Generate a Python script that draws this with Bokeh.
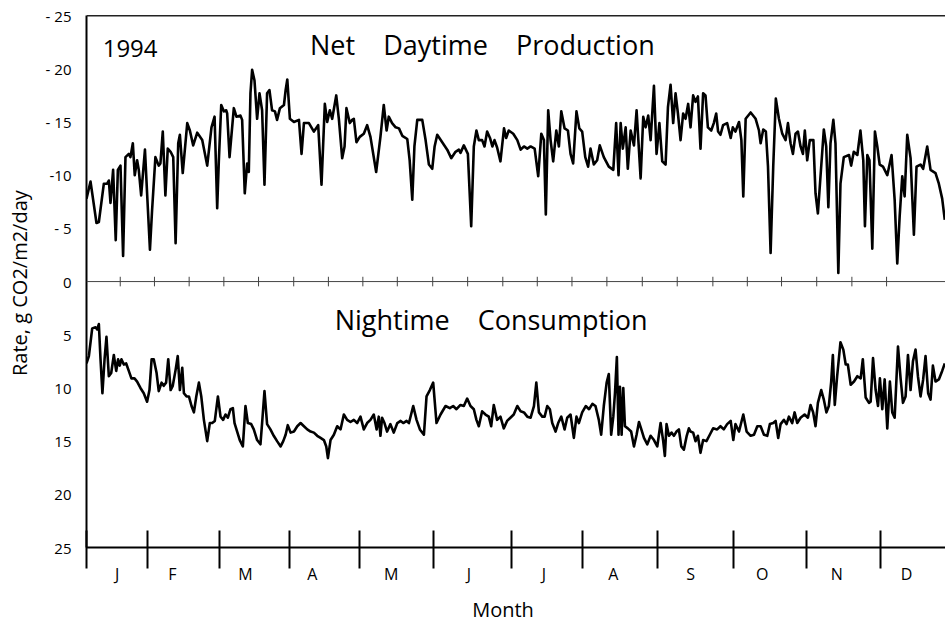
from bokeh.plotting import figure
from bokeh.models import Range1d, FixedTicker, Span
from bokeh.core.properties import value
from bokeh.embed import file_html
from bokeh.resources import INLINE

# ---------------- data (day of year, g CO2/m2/day) ----------------
# Net daytime production (plotted as negative rates, upward)
prod_days = [
    0.0, 1.7, 4.2, 5.2, 7.3, 8.7, 9.4, 10.1, 11.2, 12.3,
    13.2, 14.3, 15.4, 16.4, 17.8, 18.5, 19.5, 20.3, 21.3, 22.0,
    23.0, 24.6, 25.5, 26.7, 27.6, 29.0, 30.4, 31.1, 32.1, 33.2,
    34.2, 35.4, 36.5, 37.5, 38.6, 39.3, 40.5, 42.4, 43.5, 44.9,
    46.6, 48.7, 50.8, 52.6, 53.9, 55.0, 55.7, 56.7, 57.8, 58.8,
    59.2, 60.2, 62.0, 63.1, 64.8, 65.5, 66.6, 67.6, 68.3, 69.0,
    69.7, 70.7, 71.8, 72.8, 73.9, 74.9, 76.0, 77.0, 78.1, 79.3,
    80.2, 81.4, 83.1, 83.8, 84.5, 85.6, 87.3, 89.4, 90.5, 91.5,
    93.6, 95.7, 97.5, 98.9, 100.3, 101.3, 102.4, 103.4, 105.1, 106.2,
    107.6, 108.6, 109.4, 110.8, 111.8, 112.5, 113.6, 115.0, 116.7, 118.1,
    119.5, 121.9, 123.7, 125.1, 126.3, 127.2, 128.6, 130.1, 131.5, 132.9,
    135.0, 136.0, 137.1, 138.0, 139.2, 141.3, 142.7, 144.1, 145.5, 146.5,
    147.6, 149.7, 151.8, 153.5, 155.3, 156.7, 157.4, 158.8, 160.5, 161.9,
    163.0, 164.1, 165.1, 166.5, 167.5, 168.6, 169.8, 170.8, 171.7, 172.8,
    174.2, 175.7, 176.6, 177.7, 179.6, 181.3, 182.7, 184.1, 185.5, 186.9,
    188.6, 190.1, 191.4, 192.5, 193.3, 194.3, 195.3, 196.4, 197.7, 198.8,
    199.8, 201.2, 202.6, 203.7, 204.8, 206.2, 207.4, 208.6, 209.9, 211.1,
    212.1, 213.5, 214.9, 216.0, 217.7, 219.8, 221.7, 222.9, 223.9, 224.8,
    225.7, 226.9, 227.8, 229.0, 230.4, 231.5, 233.2, 234.3, 235.3, 236.4,
    237.4, 238.8, 239.9, 241.1, 242.3, 243.7, 244.7, 245.8, 246.9, 247.9,
    248.9, 250.0, 251.1, 252.1, 253.2, 254.2, 255.3, 256.3, 257.3, 258.4,
    259.5, 260.5, 261.5, 262.9, 264.0, 265.0, 265.8, 266.8, 267.9, 269.6,
    271.1, 272.0, 273.1, 274.6, 275.6, 276.4, 277.4, 279.5, 281.6, 283.0,
    283.7, 284.8, 285.9, 286.8, 287.9, 289.0, 290.1, 291.4, 292.8, 294.2,
    295.2, 296.3, 297.3, 298.4, 299.4, 300.5, 301.5, 302.3, 303.3, 304.4,
    305.9, 306.8, 307.8, 308.9, 310.3, 311.3, 312.2, 313.1, 314.3, 315.2,
    316.4, 317.3, 318.7, 320.9, 321.8, 322.9, 324.4, 325.7, 326.9, 327.6,
    328.6, 329.5, 330.7, 331.8, 332.8, 333.8, 335.2, 337.0, 338.8, 340.1,
    341.2, 342.2, 343.3, 344.3, 345.4, 346.8, 348.2, 349.3, 351.0, 352.1,
    353.8, 355.2, 357.3, 358.7, 360.1, 361.2,
]
prod_vals = [
    -7.8, -9.4, -5.5, -5.6, -9.2, -9.2, -9.5, -7.4, -10.5, -3.9,
    -10.5, -10.9, -2.4, -11.7, -12.0, -11.7, -13.0, -10.0, -11.4, -10.5,
    -8.1, -12.4, -8.3, -3.0, -6.7, -11.7, -10.9, -11.1, -14.1, -8.1,
    -12.5, -12.2, -11.7, -3.6, -13.0, -13.8, -10.2, -14.9, -14.2, -12.8,
    -14.0, -13.3, -10.9, -14.5, -15.5, -6.9, -11.4, -16.6, -16.0, -16.1,
    -15.8, -11.7, -16.3, -15.5, -15.6, -15.2, -8.3, -11.1, -10.3, -17.7,
    -19.9, -18.9, -15.3, -17.7, -16.1, -9.1, -17.7, -18.0, -16.1, -16.0,
    -15.2, -16.3, -16.6, -18.0, -19.0, -15.3, -15.0, -15.2, -12.0, -14.9,
    -14.9, -14.1, -14.7, -9.1, -16.7, -15.0, -16.1, -15.3, -17.5, -15.3,
    -11.6, -12.7, -16.3, -14.9, -15.2, -15.3, -13.1, -13.6, -13.9, -14.7,
    -13.6, -10.3, -13.6, -16.6, -14.2, -15.5, -14.9, -14.5, -14.4, -13.7,
    -13.4, -11.4, -7.7, -12.7, -15.2, -15.2, -13.3, -11.0, -10.6, -12.7,
    -13.8, -13.1, -12.4, -11.6, -12.2, -12.4, -12.1, -12.8, -12.0, -5.2,
    -12.7, -14.2, -13.3, -13.3, -12.7, -14.1, -13.5, -12.7, -13.3, -12.6,
    -11.3, -14.4, -13.5, -14.2, -13.9, -13.3, -12.4, -12.7, -12.5, -12.7,
    -12.5, -9.9, -13.9, -13.3, -6.3, -16.1, -13.3, -11.3, -14.2, -12.7,
    -16.0, -14.4, -14.2, -12.0, -11.1, -16.0, -14.4, -14.1, -11.7, -10.8,
    -12.5, -11.0, -11.4, -12.8, -11.7, -10.8, -10.5, -14.9, -10.0, -14.9,
    -12.5, -14.5, -10.6, -14.2, -12.8, -16.1, -9.7, -15.5, -14.5, -15.6,
    -13.3, -18.4, -12.0, -14.9, -11.3, -11.0, -16.4, -18.5, -14.9, -17.7,
    -15.8, -13.3, -15.8, -15.3, -16.7, -14.5, -17.5, -16.9, -17.4, -12.5,
    -17.7, -17.5, -14.5, -14.2, -14.9, -15.8, -14.1, -13.8, -14.7, -14.9,
    -13.5, -14.5, -14.1, -15.0, -13.3, -8.0, -15.3, -15.9, -15.3, -14.2,
    -13.0, -14.3, -14.1, -10.8, -2.7, -10.8, -17.2, -15.3, -13.9, -13.3,
    -14.9, -13.0, -12.0, -13.9, -14.1, -12.7, -12.0, -14.2, -11.4, -13.3,
    -13.3, -8.3, -6.4, -9.9, -14.3, -12.7, -7.0, -13.0, -15.2, -13.0,
    -0.8, -9.2, -11.7, -11.9, -10.9, -12.2, -11.9, -14.2, -11.4, -5.2,
    -11.9, -11.4, -3.1, -14.1, -12.7, -11.0, -10.8, -10.0, -11.9, -7.7,
    -1.7, -6.1, -9.9, -8.0, -13.8, -11.6, -4.4, -10.8, -11.0, -10.6,
    -12.7, -10.5, -10.2, -9.2, -7.8, -5.8,
]

# Nighttime consumption (positive rates, plotted downward)
cons_days = [
    0.0, 1.0, 2.4, 3.8, 4.5, 5.2, 5.9, 6.7, 7.6, 8.4,
    9.4, 10.4, 11.5, 12.5, 13.3, 14.0, 14.7, 15.7, 16.7, 17.8,
    18.9, 20.2, 21.3, 22.7, 24.1, 25.5, 26.5, 27.4, 28.3, 29.5,
    30.4, 31.6, 32.5, 33.5, 34.4, 35.4, 36.3, 37.5, 38.4, 39.3,
    40.3, 41.0, 42.1, 43.1, 44.2, 45.2, 46.2, 47.3, 48.3, 49.4,
    50.8, 51.9, 52.9, 54.0, 55.3, 56.4, 57.5, 58.5, 59.5, 60.6,
    61.6, 62.3, 63.4, 64.5, 65.8, 66.9, 67.9, 69.3, 70.4, 71.8,
    73.2, 73.9, 74.9, 76.0, 77.4, 78.8, 80.2, 81.7, 82.8, 83.8,
    84.7, 85.9, 87.3, 88.7, 90.1, 91.5, 92.9, 94.3, 95.7, 97.1,
    98.5, 99.9, 100.9, 101.6, 102.7, 104.1, 105.5, 106.9, 108.3, 109.7,
    111.1, 112.5, 113.9, 115.3, 116.7, 118.1, 119.5, 120.9, 122.1, 123.0,
    123.7, 124.4, 125.4, 126.5, 127.9, 129.3, 130.8, 132.2, 133.3, 134.7,
    135.7, 137.5, 138.9, 140.3, 142.0, 143.1, 144.5, 145.9, 147.3, 149.0,
    151.1, 152.9, 154.3, 155.7, 157.4, 158.8, 160.2, 161.6, 163.0, 164.1,
    165.1, 166.5, 167.9, 169.3, 170.3, 171.4, 172.8, 174.2, 175.6, 177.0,
    178.4, 179.8, 181.3, 182.7, 184.1, 185.5, 186.9, 188.3, 189.3, 190.4,
    191.8, 192.8, 193.9, 195.0, 196.0, 197.4, 198.5, 199.8, 201.2, 202.3,
    203.7, 205.1, 206.2, 207.2, 208.6, 210.1, 211.5, 212.9, 214.2, 215.6,
    216.6, 217.7, 218.9, 219.8, 220.8, 221.7, 222.4, 223.2, 223.9, 224.5,
    225.2, 225.9, 226.6, 227.8, 229.2, 230.4, 231.5, 232.5, 233.5, 234.6,
    236.0, 237.4, 238.8, 240.2, 241.6, 242.7, 243.4, 244.1, 245.1, 246.2,
    247.2, 248.3, 249.3, 250.3, 251.4, 252.6, 253.5, 254.2, 255.3, 256.3,
    257.3, 258.4, 259.5, 260.9, 262.3, 263.7, 265.4, 266.8, 268.2, 269.6,
    271.1, 272.2, 273.1, 274.6, 276.4, 277.8, 279.5, 280.9, 282.3, 283.7,
    285.1, 286.5, 287.6, 289.0, 290.0, 291.1, 292.1, 293.5, 294.6, 295.6,
    297.0, 298.0, 299.1, 300.5, 302.2, 303.6, 304.7, 305.8, 306.8, 307.8,
    309.2, 310.3, 311.4, 312.4, 313.4, 314.1, 314.9, 315.9, 317.3, 318.5,
    319.5, 320.4, 321.6, 323.0, 324.4, 325.8, 326.7, 327.9, 329.3, 330.0,
    331.0, 332.1, 333.1, 333.9, 334.9, 335.9, 337.0, 338.1, 339.1, 340.1,
    341.5, 342.6, 343.6, 344.7, 345.7, 346.8, 347.8, 348.9, 349.9, 351.0,
    352.1, 353.1, 354.2, 355.2, 356.2, 357.3, 358.7, 360.1, 361.2,
]
cons_vals = [
    7.7, 7.0, 4.4, 4.3, 4.5, 4.0, 7.3, 10.5, 7.3, 5.2,
    8.9, 8.6, 6.9, 8.4, 7.3, 7.9, 7.3, 7.8, 7.7, 8.4,
    9.1, 9.1, 9.4, 10.0, 10.5, 11.3, 10.2, 7.3, 7.3, 8.6,
    10.3, 9.5, 9.8, 9.5, 7.3, 10.2, 9.8, 8.3, 7.0, 10.2,
    8.1, 10.5, 10.8, 10.8, 11.7, 12.3, 10.8, 9.5, 10.8, 13.0,
    15.0, 13.3, 13.3, 13.1, 10.8, 12.7, 13.0, 12.5, 12.8, 12.0,
    11.9, 13.3, 14.1, 14.9, 15.5, 11.7, 13.3, 13.4, 13.9, 14.9,
    15.3, 13.3, 10.3, 13.4, 13.9, 14.5, 15.0, 15.5, 15.0, 14.4,
    13.5, 14.2, 14.1, 13.6, 13.3, 13.6, 13.9, 14.1, 14.2, 14.5,
    14.7, 14.9, 15.5, 16.6, 14.9, 14.4, 13.6, 13.9, 12.5, 13.0,
    13.2, 13.0, 13.3, 12.7, 13.9, 13.3, 13.0, 12.5, 13.9, 12.7,
    14.5, 12.8, 13.3, 14.1, 13.4, 14.2, 13.3, 13.1, 13.3, 13.1,
    13.3, 11.7, 13.0, 13.9, 14.4, 10.8, 10.2, 9.5, 13.3, 12.5,
    11.7, 11.9, 11.7, 12.0, 11.6, 11.7, 11.0, 11.7, 12.0, 13.0,
    13.6, 12.2, 12.5, 12.7, 13.6, 11.6, 13.0, 12.7, 13.8, 13.1,
    12.8, 12.5, 11.7, 12.2, 12.3, 12.7, 12.8, 11.7, 9.5, 12.3,
    12.7, 12.7, 11.7, 12.0, 13.3, 14.1, 13.3, 12.7, 13.9, 12.8,
    12.5, 14.7, 12.7, 13.3, 12.3, 11.7, 12.0, 11.5, 11.7, 13.0,
    14.4, 11.7, 9.5, 8.7, 14.4, 12.7, 10.5, 7.1, 14.4, 9.9,
    14.4, 10.0, 13.6, 13.8, 14.1, 15.5, 14.4, 13.2, 13.9, 14.7,
    15.3, 14.5, 14.9, 15.5, 13.3, 15.0, 16.4, 13.4, 14.5, 14.2,
    14.5, 14.1, 13.9, 15.5, 15.8, 14.5, 13.8, 14.1, 14.2, 15.0,
    14.5, 16.1, 14.9, 15.0, 14.4, 13.8, 13.9, 13.6, 13.9, 13.4,
    13.1, 14.9, 13.4, 14.1, 12.5, 14.1, 14.5, 14.4, 13.6, 13.6,
    14.4, 14.5, 13.4, 13.3, 13.1, 14.7, 13.4, 13.0, 13.4, 12.7,
    13.3, 12.3, 13.3, 12.8, 12.5, 12.8, 11.6, 12.3, 13.6, 11.4,
    10.2, 11.1, 12.3, 11.7, 9.4, 6.9, 11.6, 8.9, 5.7, 6.4,
    7.8, 7.8, 9.7, 9.4, 8.9, 9.1, 7.3, 10.9, 11.4, 11.3,
    7.2, 10.2, 11.7, 9.1, 12.0, 9.2, 13.8, 9.4, 12.3, 12.8,
    6.1, 9.1, 11.4, 10.8, 6.9, 10.2, 7.5, 6.4, 8.9, 10.8,
    9.2, 7.0, 10.5, 11.1, 7.9, 9.4, 9.2, 8.4, 7.7,
]

# axis furniture
y_ticks = [-25, -20, -15, -10, -5, 0, 5, 10, 15, 20, 25]
y_tick_labels = ["- 25", "- 20", "- 15", "-10", "- 5", "0", "5", "10", "15", "20", "25"]
zero_tick_days = [14.2, 28.6, 43.2, 57.8, 72.4, 87.2, 101.8, 116.3, 130.8, 145.7,
                  160.4, 175.2, 189.7, 204.3, 219.0, 233.9, 248.6, 263.6, 278.1,
                  292.5, 307.3, 322.1, 336.7]
month_edges = [0.0, 25.7, 56.0, 85.3, 114.9, 145.9, 179.0, 208.9, 240.2, 272.2, 303.0, 334.3]
month_label_days = [12.9, 36.1, 66.9, 95.0, 128.2, 160.9, 192.5, 221.7, 254.2, 284.4, 315.7, 345.1]
month_letters = ["J", "F", "M", "A", "M", "J", "J", "A", "S", "O", "N", "D"]

FONT = "Open Sans"
GAP = "\u00a0\u00a0\u00a0\u00a0"

p = figure(width=945, height=625, output_backend="svg", toolbar_location=None,
           x_range=Range1d(0, 361.5), y_range=Range1d(25, -25.2),
           min_border_left=86, min_border_right=0, min_border_top=13,
           min_border_bottom=77)
p.outline_line_color = None
p.grid.visible = False
p.background_fill_color = "white"
p.border_fill_color = "white"

yax = p.yaxis[0]
yax.ticker = FixedTicker(ticks=y_ticks)
yax.major_label_overrides = {t: l for t, l in zip(y_ticks, y_tick_labels)}
yax.bounds = (-25, 25)
yax.axis_line_width = 2
yax.axis_line_color = "black"
yax.major_tick_line_color = None
yax.minor_tick_line_color = None
yax.major_tick_out = 0
yax.major_tick_in = 0
yax.major_label_standoff = 15
yax.major_label_text_font = FONT
yax.major_label_text_font_size = "15px"
yax.major_label_text_color = "black"
yax.axis_label = "Rate,  g CO2/m2/day"
yax.axis_label_text_font = FONT
yax.axis_label_text_font_size = "20px"
yax.axis_label_text_font_style = "normal"
yax.axis_label_text_color = "black"
yax.axis_label_standoff = 10

# bottom axis: month boundaries as (minor) ticks, month letters as labels
xax = p.xaxis[0]
xax.ticker = FixedTicker(ticks=month_label_days, minor_ticks=month_edges)
xax.major_label_overrides = {d: s for d, s in zip(month_label_days, month_letters)}
xax.axis_line_width = 2
xax.axis_line_color = "black"
xax.major_tick_line_color = None
xax.major_tick_in = 0
xax.major_tick_out = 0
xax.minor_tick_line_color = "black"
xax.minor_tick_line_width = 2
xax.minor_tick_in = 17
xax.minor_tick_out = 21
xax.major_label_standoff = -6
xax.major_label_text_font = FONT
xax.major_label_text_font_size = "16px"
xax.major_label_text_color = "black"
# trailing no-break spaces nudge the centred title toward the reference position
xax.axis_label = "Month" + "\u00a0" * 5
xax.axis_label_text_font = FONT
xax.axis_label_text_font_size = "20px"
xax.axis_label_text_font_style = "normal"
xax.axis_label_text_color = "black"
xax.axis_label_standoff = 8

# frame lines
p.add_layout(Span(location=-25, dimension="width", line_color="#222222", line_width=1.5))
p.add_layout(Span(location=0, dimension="width", line_color="#444444", line_width=1))

n = len(zero_tick_days)
p.segment(x0=zero_tick_days, y0=[-0.45] * n, x1=zero_tick_days, y1=[0.45] * n,
          line_color="#444444", line_width=1)

# series
p.line(prod_days, prod_vals, line_color="black", line_width=2.6, line_join="round")
p.line(cons_days, cons_vals, line_color="black", line_width=2.6, line_join="round")

# annotations
p.text(x=[6.8], y=[-21.88], text=["1994"], text_align="left", text_baseline="middle",
       text_font=value(FONT), text_font_size="24px", text_color="black")
p.text(x=[166.6], y=[-22.32], text=["Net" + GAP + "Daytime" + GAP + "Production"],
       text_align="center", text_baseline="middle", text_font=value(FONT),
       text_font_size="27px", text_color="black")
p.text(x=[170.3], y=[3.56], text=["Nightime" + GAP + "Consumption"], text_align="center",
       text_baseline="middle", text_font=value(FONT), text_font_size="27px",
       text_color="black")

open("out.html", "w").write(file_html(p, INLINE))
